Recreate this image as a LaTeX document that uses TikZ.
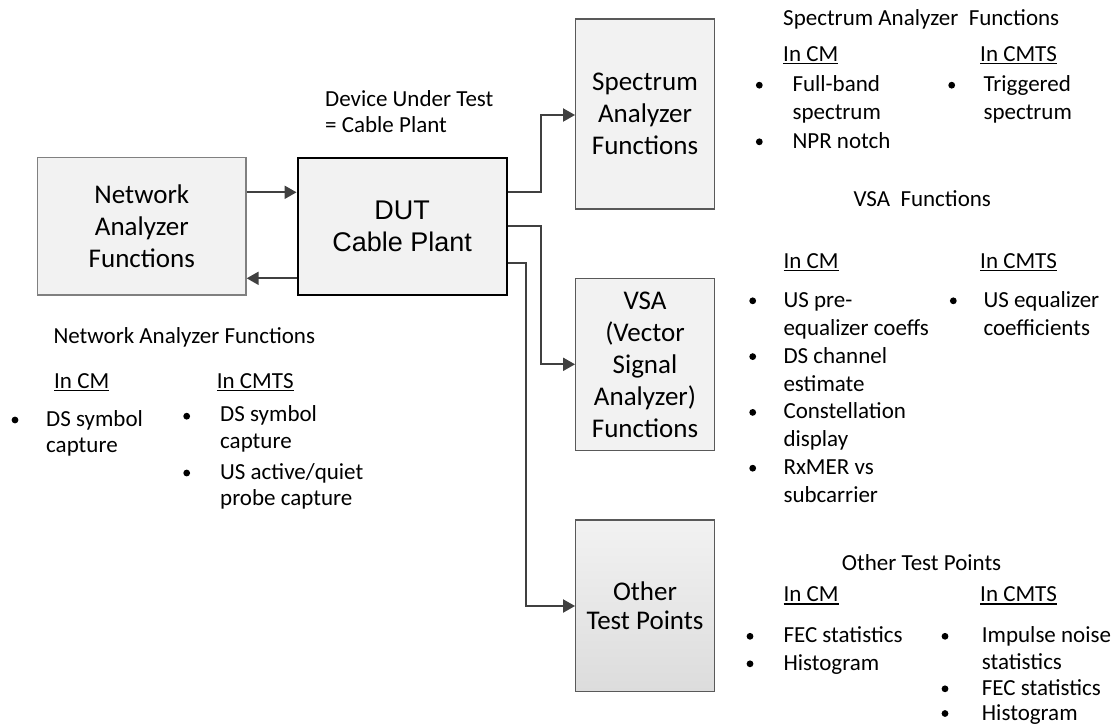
\documentclass[tikz,border=0pt]{standalone}
\usepackage{fontspec}
\setmainfont{Carlito}
\newfontfamily\arialf{Liberation Sans}
\usetikzlibrary{arrows.meta}
\definecolor{boxfill}{HTML}{F2F2F2}
\definecolor{boxfilldark}{HTML}{DCDCDC}
\definecolor{nagray}{HTML}{808080}
\definecolor{boxgray}{HTML}{595959}
\definecolor{arrowgray}{HTML}{404040}
\newcommand\ulin[1]{\sbox0{#1}\rlap{\rule[-2.8pt]{\wd0}{1.1pt}}\usebox0}
\newcommand\boxfont{\fontsize{27}{32}\selectfont}
\newcommand\txtfont{\fontsize{23}{28}\selectfont}
\tikzset{
  fbox/.style={draw=boxgray, fill=boxfill, line width=1.3pt, inner sep=0pt, align=center, font=\boxfont},
  txt/.style={anchor=base west, inner sep=0pt, font=\txtfont},
  conn/.style={draw=arrowgray, line width=2pt, -{Triangle[length=12pt,width=13pt]}},
}
\begin{document}
\begin{tikzpicture}[x=1pt,y=-1pt]
\useasboundingbox (0,0) rectangle (1115,726);

% boxes
\node[fbox, draw=nagray, minimum width=208.3pt, minimum height=137.3pt] (na) at (141.85,226.35) {Network\\Analyzer\\Functions};
\node[fbox, draw=black, line width=2.3pt, minimum width=209pt, minimum height=137.3pt, font=\arialf\fontsize{27}{31.5}\selectfont] (dut) at (402.2,226.35) {DUT\\Cable Plant};
\node[fbox, minimum width=138.6pt, minimum height=190pt] (sa) at (645,114) {Spectrum\\Analyzer\\Functions};
\node[fbox, minimum width=138.6pt, minimum height=172.4pt] (vsa) at (645,364.5) {VSA\\(Vector\\Signal\\Analyzer)\\Functions};
\node[fbox, top color=boxfill, bottom color=boxfilldark, minimum width=138.6pt, minimum height=171.7pt, font=\fontsize{27}{28.4}\selectfont] (otp) at (645,605.85) {Other\\Test Points};

% connectors
\coordinate (a1) at (0,192.3);
\coordinate (a2) at (0,278.3);
\draw[conn] (na.east |- a1) -- (dut.west |- a1);
\draw[conn] (dut.west |- a2) -- (na.east |- a2);
\coordinate (s1) at (541,192);
\coordinate (s2) at (541,115);
\draw[conn] (dut.east |- s1) -- (s1) -- (s2) -- (sa.west |- s2);
\coordinate (v1) at (541,225.7);
\coordinate (v2) at (541,364.3);
\draw[conn] (dut.east |- v1) -- (v1) -- (v2) -- (vsa.west |- v2);
\coordinate (o1) at (525.5,262.7);
\coordinate (o2) at (525.5,606);
\draw[conn] (dut.east |- o1) -- (o1) -- (o2) -- (otp.west |- o2);

% DUT label
\node[txt] (dl1) at (325,106.7) {Device Under Test};
\node[txt] (dl2) at (325,132.7) {= Cable Plant};

% Spectrum analyzer functions
\node[txt] (sh) at (783,25) {Spectrum Analyzer~~Functions};
\node[txt] (scm) at (783,61) {\ulin{In CM}};
\node[txt] (scmts) at (980,61) {\ulin{In CMTS}};
\fill (759.3,85.2) circle (3.4);
\node[txt] (s11) at (792.3,91.7) {Full-band};
\node[txt] (s12) at (792.3,119.5) {spectrum};
\fill (759.3,141.8) circle (3.4);
\node[txt] (s13) at (792.3,148.3) {NPR notch};
\fill (951.7,85.2) circle (3.4);
\node[txt] (s21) at (983.3,91.7) {Triggered};
\node[txt] (s22) at (983.3,119.5) {spectrum};

% VSA functions
\node[txt] (vh) at (853.3,206) {VSA~~Functions};
\node[txt] (vcm) at (783.3,268.3) {\ulin{In CM}};
\node[txt] (vcmts) at (980,268.3) {\ulin{In CMTS}};
\fill (752.7,300.8) circle (3.4);
\node[txt] (v11) at (783.3,307.3) {US pre-};
\node[txt] (v12) at (783.3,335.2) {equalizer coeffs};
\fill (752.7,356.6) circle (3.4);
\node[txt] (v13) at (783.3,363.1) {DS channel};
\node[txt] (v14) at (783.3,391) {estimate};
\fill (752.7,412.4) circle (3.4);
\node[txt] (v15) at (783.3,418.9) {Constellation};
\node[txt] (v16) at (783.3,446.8) {display};
\fill (752.7,468.2) circle (3.4);
\node[txt] (v17) at (783.3,474.7) {RxMER vs};
\node[txt] (v18) at (783.3,502.6) {subcarrier};
\fill (953.3,300.8) circle (3.4);
\node[txt] (v21) at (983.3,307.3) {US equalizer};
\node[txt] (v22) at (983.3,335.2) {coefficients};

% Other test points
\node[txt] (oh) at (841.7,570.7) {Other Test Points};
\node[txt] (ocm) at (783.3,601.7) {\ulin{In CM}};
\node[txt] (ocmts) at (980,601.7) {\ulin{In CMTS}};
\fill (750,636.3) circle (3.4);
\node[txt] (o11) at (783.3,642.8) {FEC statistics};
\fill (750,663.8) circle (3.4);
\node[txt] (o12) at (783.3,670.3) {Histogram};
\fill (945,636.3) circle (3.4);
\node[txt] (o21) at (981.7,642.8) {Impulse noise};
\node[txt] (o22) at (981.7,669.5) {statistics};
\fill (945,688.8) circle (3.4);
\node[txt] (o23) at (981.7,695.3) {FEC statistics};
\fill (945,713.5) circle (3.4);
\node[txt] (o24) at (981.7,720) {Histogram};

% Network analyzer functions
\node[txt] (nh) at (53.3,343.3) {Network Analyzer Functions};
\node[txt] (ncm) at (54,388.3) {\ulin{In CM}};
\node[txt] (ncmts) at (216.7,388.3) {\ulin{In CMTS}};
\fill (15,420) circle (3.4);
\node[txt] (n11) at (46,426) {DS symbol};
\node[txt] (n12) at (46,452.7) {capture};
\fill (186.7,416.2) circle (3.4);
\node[txt] (n21) at (220,421.7) {DS symbol};
\node[txt] (n22) at (220,448.3) {capture};
\fill (186.7,473) circle (3.4);
\node[txt] (n23) at (220,479) {US active/quiet};
\node[txt] (n24) at (220,505.7) {probe capture};
\end{tikzpicture}
\end{document}
